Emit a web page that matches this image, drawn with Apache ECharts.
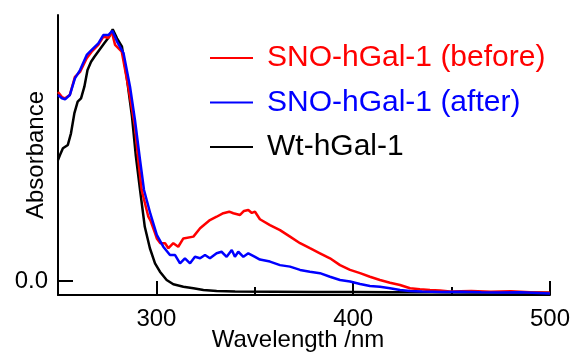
<!DOCTYPE html>
<html>
<head>
<meta charset="utf-8">
<script src="https://cdn.jsdelivr.net/npm/echarts@6/dist/echarts.min.js"></script>
<style>
  html, body { margin: 0; padding: 0; background: #fff; }
  #chart { width: 576px; height: 353px; }
</style>
</head>
<body>
<div id="chart"></div>
<script>
// UV-vis spectra, absorbance (0.0 = baseline tick)
const wlBefore = [250, 252, 253.6, 256, 258.6, 261.2, 264.6, 267.1, 270.5, 273, 275.6, 277.3, 279, 282.4, 285.7, 289.1, 290.8, 292.5, 295.9, 297, 299.3, 300.2, 302, 304.4, 306.1, 308.6, 311.1, 313.7, 318.8, 322.2, 327.2, 330.6, 334, 337, 339.1, 342.5, 344.5, 346.7, 348.5, 350.1, 352.6, 357.7, 362.8, 367.9, 373, 378, 383.1, 388.2, 393.3, 398.4, 403.5, 408.5, 413.6, 418.7, 423.8, 428.9, 433.9, 439, 444.1, 449.2, 460, 470, 480, 490, 500];
const absBefore = [0.75, 0.73, 0.725, 0.738, 0.81, 0.83, 0.884, 0.91, 0.937, 0.969, 0.965, 0.989, 0.937, 0.91, 0.771, 0.612, 0.48, 0.361, 0.255, 0.24, 0.19, 0.169, 0.15, 0.15, 0.13, 0.15, 0.136, 0.169, 0.176, 0.209, 0.242, 0.255, 0.269, 0.275, 0.269, 0.262, 0.278, 0.282, 0.27, 0.275, 0.245, 0.222, 0.202, 0.176, 0.15, 0.13, 0.11, 0.09, 0.063, 0.044, 0.031, 0.017, 0.004, -0.007, -0.016, -0.029, -0.033, -0.036, -0.038, -0.042, -0.04, -0.043, -0.041, -0.045, -0.047];

const wlAfter = [250, 252, 253.6, 256, 258.6, 261.2, 264.6, 267.1, 270.5, 273, 275.6, 277.6, 280, 283.3, 286.6, 289.1, 291.7, 293.7, 297, 300.2, 303.5, 306.9, 309.5, 312, 314.5, 317.1, 319.6, 322.2, 324.7, 327.2, 330.6, 333.1, 335.7, 338.3, 339.9, 341.6, 344.2, 346.7, 350.1, 352.6, 357.7, 362.8, 367.9, 373, 378, 383.1, 388.2, 393.3, 398.4, 403.5, 408.5, 413.6, 418.7, 423.8, 428.9, 435, 445, 455, 465, 475, 485, 500];
const absAfter = [0.738, 0.725, 0.721, 0.738, 0.804, 0.837, 0.897, 0.917, 0.943, 0.976, 0.976, 0.993, 0.95, 0.904, 0.771, 0.639, 0.48, 0.361, 0.265, 0.183, 0.136, 0.103, 0.103, 0.07, 0.09, 0.07, 0.096, 0.09, 0.103, 0.09, 0.11, 0.116, 0.096, 0.123, 0.096, 0.116, 0.096, 0.11, 0.096, 0.085, 0.077, 0.063, 0.057, 0.044, 0.037, 0.031, 0.017, 0.004, -0.002, -0.012, -0.02, -0.023, -0.029, -0.036, -0.04, -0.042, -0.044, -0.043, -0.045, -0.046, -0.045, -0.05];

const wlWt = [250, 251, 252.5, 255, 256.6, 258.3, 260, 261.7, 263.4, 265, 266.8, 268.5, 271, 273.5, 276, 277.8, 280, 282.5, 285, 287.6, 289.5, 291.7, 294.1, 296.7, 299.3, 301.8, 305.2, 308.6, 313.7, 318.8, 323.9, 330.6, 340, 360, 380, 400, 420, 440, 460, 480, 500];
const absWt = [0.48, 0.5, 0.527, 0.54, 0.586, 0.665, 0.712, 0.725, 0.771, 0.837, 0.87, 0.89, 0.917, 0.943, 0.969, 0.999, 0.963, 0.93, 0.804, 0.652, 0.5, 0.361, 0.215, 0.13, 0.07, 0.037, 0.004, -0.013, -0.023, -0.029, -0.036, -0.04, -0.042, -0.043, -0.044, -0.044, -0.045, -0.045, -0.046, -0.046, -0.047];

const seriesNames = ['SNO-hGal-1 (before)', 'SNO-hGal-1 (after)', 'Wt-hGal-1'];
const seriesColors = ['#ff0000', '#0000ff', '#000000'];
const majorTicks = [300, 400, 500];
const minorTicks = [350, 450];
const yTicks = [0];

const FONT = '"Liberation Sans", Arial, Helvetica, sans-serif';
const zip = (xs, ys) => xs.map((x, i) => [x, ys[i]]);

const chart = echarts.init(document.getElementById('chart'), null, { renderer: 'canvas' });

const mkSeries = (i, xs, ys, z) => ({
  name: seriesNames[i],
  type: 'line',
  data: zip(xs, ys),
  symbol: 'none',
  z: z,
  lineStyle: { color: seriesColors[i], width: 2.5 },
  itemStyle: { color: seriesColors[i] },
  xAxisIndex: 0,
  yAxisIndex: 0
});

// extra axes only carry tick marks (major / minor lengths differ)
const tickAxis = (values, len) => ({
  type: 'value',
  min: 250,
  max: 500,
  position: 'bottom',
  axisLine: { show: false, onZero: false },
  axisTick: { show: true, inside: true, length: len, customValues: values, lineStyle: { color: '#000', width: 2 } },
  axisLabel: { show: false },
  splitLine: { show: false }
});

chart.setOption({
  animation: false,
  backgroundColor: '#ffffff',
  textStyle: { fontFamily: FONT },
  grid: { left: 58, right: 26, top: 15, bottom: 58, containLabel: false, outerBoundsMode: 'none' },
  legend: {
    orient: 'vertical',
    left: 210,
    top: 43,
    padding: 0,
    icon: 'rect',
    itemWidth: 43,
    itemHeight: 2,
    itemGap: 14.5,
    data: seriesNames.map((n, i) => ({
      name: n,
      itemStyle: { color: seriesColors[i] },
      textStyle: { color: seriesColors[i] }
    })),
    textStyle: { fontSize: 30, lineHeight: 30, fontFamily: FONT, padding: [0, 0, 0, 9] }
  },
  xAxis: [
    {
      type: 'value',
      min: 250,
      max: 500,
      position: 'bottom',
      name: 'Wavelength /nm',
      nameLocation: 'middle',
      nameGap: 33,
      nameMoveOverlap: false,
      nameTextStyle: { fontSize: 24, color: '#000', fontFamily: FONT, padding: [0, 12, 0, 0] },
      axisLine: { show: true, onZero: false, lineStyle: { color: '#000', width: 2 } },
      axisTick: { show: false },
      axisLabel: { show: true, customValues: majorTicks, fontSize: 24, color: '#000', margin: 12, fontFamily: FONT },
      splitLine: { show: false }
    },
    tickAxis(majorTicks, 14),
    tickAxis(minorTicks, 8)
  ],
  yAxis: {
    type: 'value',
    min: -0.0556,
    max: 1.0556,
    name: 'Absorbance',
    nameLocation: 'middle',
    nameGap: 10,
    nameMoveOverlap: false,
    nameTextStyle: { fontSize: 24, color: '#000', fontFamily: FONT },
    axisLine: { show: true, onZero: false, lineStyle: { color: '#000', width: 2 } },
    axisTick: { show: true, inside: true, length: 15, customValues: yTicks, lineStyle: { color: '#000', width: 2 } },
    axisLabel: { show: true, customValues: yTicks, fontSize: 24, color: '#000', margin: 10, fontFamily: FONT, formatter: v => v.toFixed(1) },
    splitLine: { show: false }
  },
  series: [
    mkSeries(0, wlBefore, absBefore, 3),
    mkSeries(1, wlAfter, absAfter, 4),
    mkSeries(2, wlWt, absWt, 2)
  ]
});
</script>
</body>
</html>
